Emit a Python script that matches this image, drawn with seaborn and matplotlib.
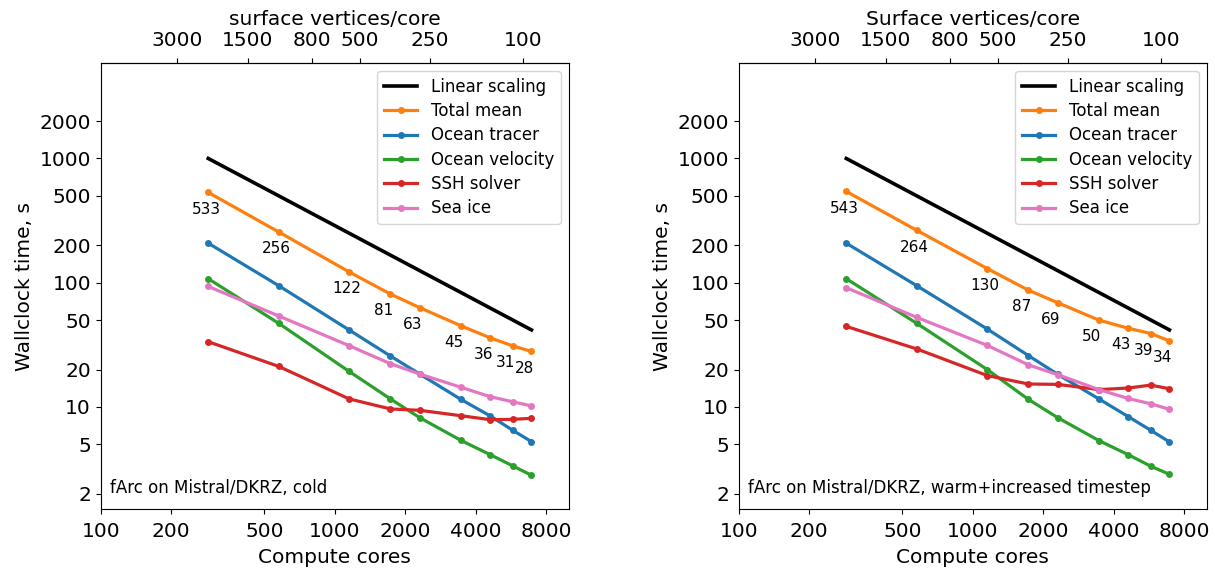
import numpy as np
import pandas as pd
import matplotlib
matplotlib.use("Agg")
import matplotlib.pyplot as plt
import seaborn as sns
from matplotlib.ticker import NullLocator

# ---------------- data ----------------
cores = [288, 576, 1152, 1728, 2304, 3456, 4608, 5760, 6912]
linear_cores = [288, 6912]
linear_time = [1000, 41.7]

cold_total = [533, 256, 122, 81, 63, 45, 36, 31, 28]
cold_tracer = [208, 94.6, 41.6, 25.7, 18.4, 11.5, 8.47, 6.48, 5.26]
cold_velocity = [107.7, 47.1, 19.3, 11.6, 8.2, 5.38, 4.13, 3.35, 2.82]
cold_ssh = [33.5, 21.2, 11.6, 9.64, 9.4, 8.5, 7.9, 7.95, 8.1]
cold_ice = [93.3, 54.0, 31.1, 22.3, 18.4, 14.4, 12.1, 11.0, 10.2]

warm_total = [543, 264, 130, 87, 69, 50, 43, 39, 34]
warm_tracer = [208, 94.6, 42.4, 25.9, 18.3, 11.6, 8.36, 6.48, 5.23]
warm_velocity = [107.7, 47.1, 20.0, 11.5, 8.2, 5.36, 4.13, 3.33, 2.87]
warm_ssh = [44.5, 29.3, 17.9, 15.3, 15.2, 13.8, 14.2, 15.0, 14.0]
warm_ice = [91.2, 52.6, 31.3, 21.8, 18.2, 13.8, 11.7, 10.6, 9.57]

series_names = ["Total mean", "Ocean tracer", "Ocean velocity", "SSH solver", "Sea ice"]
series_colors = ["#ff7f0e", "#1f77b4", "#2ca02c", "#d62728", "#e377c2"]

x_ticks = [100, 200, 500, 1000, 2000, 4000, 8000]
y_ticks = [2, 5, 10, 20, 50, 100, 200, 500, 1000, 2000]
top_ticks = [3000, 1500, 800, 500, 250, 100]
n_surface_vertices = 637500

panels = [
    dict(data=[cold_total, cold_tracer, cold_velocity, cold_ssh, cold_ice],
         top_label="surface vertices/core",
         note="fArc on Mistral/DKRZ, cold"),
    dict(data=[warm_total, warm_tracer, warm_velocity, warm_ssh, warm_ice],
         top_label="Surface vertices/core",
         note="fArc on Mistral/DKRZ, warm+increased timestep"),
]

plt.rcParams["font.family"] = ["DejaVu Sans"]
plt.rcParams["font.size"] = 14.5

fig = plt.figure(figsize=(12.15, 5.68), dpi=100)
axes = [fig.add_axes([0.0829, 0.1033, 0.3854, 0.7863]),
        fig.add_axes([0.6080, 0.1033, 0.3854, 0.7863])]


def fwd(x):
    x = np.asarray(x, dtype=float)
    with np.errstate(divide="ignore"):
        return n_surface_vertices / x


for ax, p in zip(axes, panels):
    sns.lineplot(x=linear_cores, y=linear_time, ax=ax, color="black",
                 lw=2.6, label="Linear scaling")
    for name, col, vals in zip(series_names, series_colors, p["data"]):
        sns.lineplot(x=cores, y=vals, ax=ax, color=col, lw=2.3, marker="o",
                     markersize=5, markeredgewidth=0, label=name)
    for c, v in zip(cores, p["data"][0]):
        ax.annotate(str(v), (c, v), xytext=(-12, -12), textcoords="offset points",
                    ha="left", va="center", fontsize=11)

    ax.set_xscale("log")
    ax.set_yscale("log")
    ax.set_xlim(100, 10000)
    ax.set_ylim(1.5, 5900)
    ax.set_xticks(x_ticks, labels=[str(t) for t in x_ticks])
    ax.set_yticks(y_ticks, labels=[str(t) for t in y_ticks])
    ax.xaxis.set_minor_locator(NullLocator())
    ax.yaxis.set_minor_locator(NullLocator())
    ax.tick_params(axis="x", pad=5.5)
    ax.set_xlabel("Compute cores", labelpad=5)
    ax.set_ylabel("Wallclock time, s")
    ax.text(0.02, 0.036, p["note"], transform=ax.transAxes, fontsize=12,
            ha="left", va="baseline")
    ax.legend(loc="upper right", fontsize=12, labelspacing=0.38)

    sec = ax.secondary_xaxis("top", functions=(fwd, fwd))
    sec.set_xticks(top_ticks, labels=[str(t) for t in top_ticks])
    sec.xaxis.set_minor_locator(NullLocator())
    sec.tick_params(axis="x", pad=5.5)
    sec.set_xlabel(p["top_label"], labelpad=4.5)

fig.savefig("out.png", dpi=100)
